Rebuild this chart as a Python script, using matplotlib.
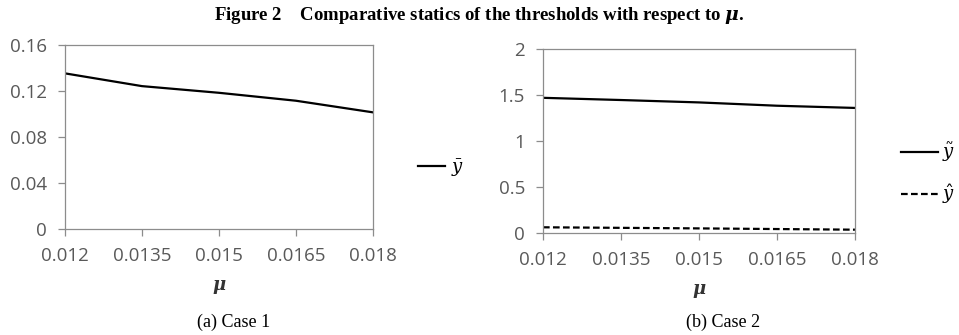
import matplotlib
matplotlib.use("Agg")
import matplotlib.pyplot as plt
from matplotlib.lines import Line2D

mu = [0.012, 0.0135, 0.015, 0.0165, 0.018]
y_bar = [0.1354, 0.1243, 0.1185, 0.1116, 0.1015]
y_tilde = [1.47, 1.446, 1.42, 1.384, 1.36]
y_hat = [0.062, 0.056, 0.050, 0.043, 0.036]

xticks = [0.012, 0.0135, 0.015, 0.0165, 0.018]
xticklabels = ["0.012", "0.0135", "0.015", "0.0165", "0.018"]
yticks_a = [0, 0.04, 0.08, 0.12, 0.16]
yticklabels_a = ["0", "0.04", "0.08", "0.12", "0.16"]
yticks_b = [0, 0.5, 1, 1.5, 2]
yticklabels_b = ["0", "0.5", "1", "1.5", "2"]

title = "Figure 2    Comparative statics of the thresholds with respect to $\\boldsymbol{\\mu}$."
captions = ["(a) Case 1", "(b) Case 2"]

plt.rcParams["mathtext.fontset"] = "dejavuserif"
fig = plt.figure(figsize=(9.59, 3.35), dpi=100)
frame_col = "#8c8c8c"
tick_col = "#595959"

ax1 = fig.add_axes([0.0678, 0.3164, 0.321, 0.549])
ax2 = fig.add_axes([0.5662, 0.3045, 0.3253, 0.549])

ax1.plot(mu, y_bar, color="black", lw=1.6)
ax2.plot(mu, y_tilde, color="black", lw=1.6)
ax2.plot(mu, y_hat, color="black", lw=1.6, ls=(0, (3, 1.5)))

for ax, yt, ytl in [(ax1, yticks_a, yticklabels_a), (ax2, yticks_b, yticklabels_b)]:
    ax.set_xlim(0.012, 0.018)
    ax.set_ylim(yt[0], yt[-1])
    ax.set_xticks(xticks)
    ax.set_xticklabels(xticklabels)
    ax.set_yticks(yt)
    ax.set_yticklabels(ytl)
    for s in ax.spines.values():
        s.set_color(frame_col)
        s.set_linewidth(0.9)
    ax.tick_params(axis="both", direction="out", length=5, width=0.9, color=frame_col,
                   labelcolor=tick_col, labelsize=13.5)
    ax.tick_params(axis="x", pad=8)
    ax.tick_params(axis="y", pad=8)
    for lab in ax.get_xticklabels() + ax.get_yticklabels():
        lab.set_family("Open Sans")
    ax.set_xlabel("$\\boldsymbol{\\mu}$", fontsize=13, labelpad=9, color="#333333")

fig.text(0.5, 0.955, title, ha="center", va="center", fontsize=13.5, fontweight="bold",
         family="Liberation Serif")
fig.text(0.244, 0.038, captions[0], ha="center", va="center", fontsize=13, family="Liberation Serif")
fig.text(0.754, 0.038, captions[1], ha="center", va="center", fontsize=13, family="Liberation Serif")

h1 = [Line2D([], [], color="black", lw=1.6)]
fig.legend(h1, ["$\\bar{y}$"], loc="center left", bbox_to_anchor=(0.436, 0.4985), frameon=False,
           fontsize=13, handlelength=1.5, handletextpad=0.3, borderpad=0, borderaxespad=0)
h2 = [Line2D([], [], color="black", lw=1.6), Line2D([], [], color="black", lw=1.6, ls=(0, (3, 1.5)))]
fig.legend(h2, ["$\\tilde{y}$", "$\\hat{y}$"], loc="center left", bbox_to_anchor=(0.9395, 0.482),
           frameon=False, fontsize=13, handlelength=2.05, handletextpad=0.2, labelspacing=1.0,
           borderpad=0, borderaxespad=0)

fig.savefig("out.png", dpi=100)
